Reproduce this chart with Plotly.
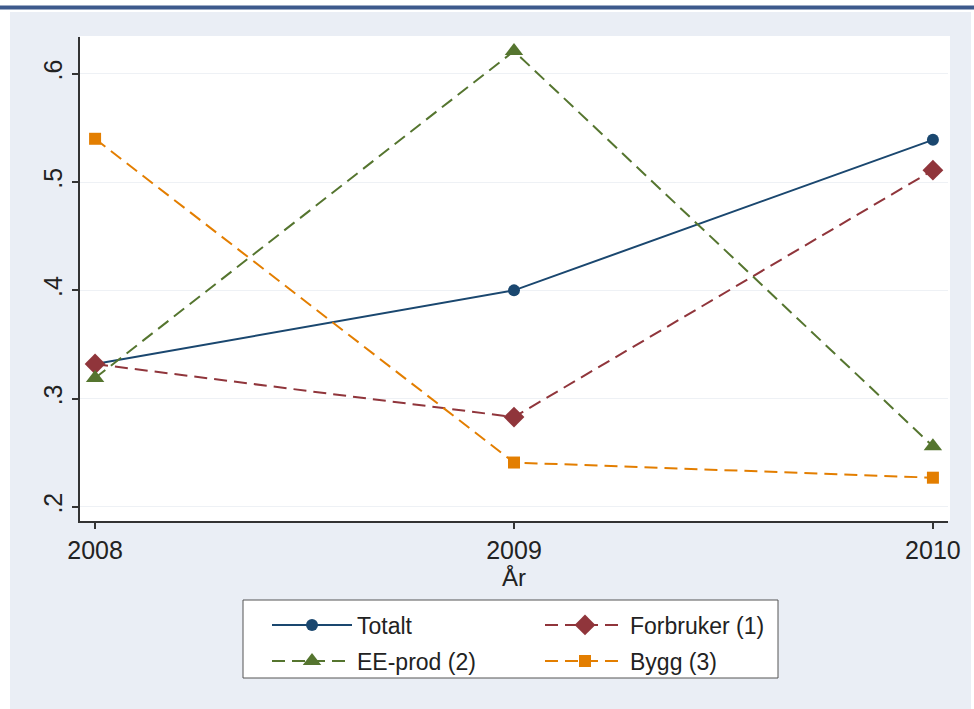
import plotly.graph_objects as go

# ---- data ----
years = [2008, 2009, 2010]
totalt = [0.332, 0.400, 0.539]
forbruker = [0.332, 0.283, 0.511]
ee_prod = [0.319, 0.621, 0.256]
bygg = [0.540, 0.241, 0.227]
y_ticks = [0.2, 0.3, 0.4, 0.5, 0.6]
y_ticktext = [".2", ".3", ".4", ".5", ".6"]

W, H = 974, 709
L, R, T, B = 80, 948, 37, 521  # plot area in pixels
PW, PH = R - L, B - T


def px(x):
    return (x - L) / PW


def py(y):
    return (B - y) / PH


FONT = "Liberation Sans, Arial, sans-serif"
NAVY = "#1a476f"
MAROON = "#90353b"
GREEN = "#55752f"
ORANGE = "#e37e00"

fig = go.Figure()

fig.add_trace(go.Scatter(x=years, y=totalt, name="Totalt", mode="lines+markers",
                         line=dict(color=NAVY, width=2),
                         marker=dict(symbol="circle", size=12, color=NAVY),
                         legend="legend"))
fig.add_trace(go.Scatter(x=years, y=forbruker, name="Forbruker (1)", mode="lines+markers",
                         line=dict(color=MAROON, width=2, dash="13px,7px"),
                         marker=dict(symbol="diamond", size=16, color=MAROON),
                         legend="legend"))
fig.add_trace(go.Scatter(x=years, y=ee_prod, name="EE-prod (2)", mode="lines+markers",
                         line=dict(color=GREEN, width=2, dash="13px,7px"),
                         marker=dict(symbol="triangle-up", size=16, color=GREEN),
                         legend="legend2"))
fig.add_trace(go.Scatter(x=years, y=bygg, name="Bygg (3)", mode="lines+markers",
                         line=dict(color=ORANGE, width=2, dash="13px,7px"),
                         marker=dict(symbol="square", size=12, color=ORANGE),
                         legend="legend2"))

shapes = [
    # blue rule at top
    dict(type="rect", xref="paper", yref="paper", layer="below",
         x0=px(0), x1=px(974), y0=py(9.5), y1=py(5.5),
         fillcolor="#3d5a8c", line=dict(width=0)),
    # graph region
    dict(type="rect", xref="paper", yref="paper", layer="below",
         x0=px(10), x1=px(971), y0=py(712), y1=py(12),
         fillcolor="#eaeef5", line=dict(width=0)),
    # plot region
    dict(type="rect", xref="paper", yref="paper", layer="below",
         x0=px(80), x1=px(950), y0=py(521), y1=py(36),
         fillcolor="white", line=dict(width=0)),
    # legend box
    dict(type="rect", xref="paper", yref="paper", layer="below",
         x0=px(243), x1=px(778), y0=py(678), y1=py(600),
         fillcolor="white", line=dict(color="#555555", width=1)),
]

leg_common = dict(orientation="h", xanchor="left", yanchor="middle",
                  bgcolor="rgba(0,0,0,0)", borderwidth=0,
                  font=dict(family=FONT, size=23, color="#222222"),
                  entrywidth=178, entrywidthmode="pixels", itemwidth=80)

fig.update_layout(
    width=W, height=H,
    margin=dict(l=L, r=W - R, t=T, b=H - B, autoexpand=False),
    paper_bgcolor="white",
    plot_bgcolor="white",
    font=dict(family=FONT, size=23, color="#222222"),
    shapes=shapes,
    showlegend=True,
    legend=dict(x=px(267), y=py(625), **leg_common),
    legend2=dict(x=px(267), y=py(661), **leg_common),
    xaxis=dict(range=[2007.964, 2010.036], tickvals=years, ticktext=[str(y) for y in years],
               ticks="outside", ticklen=6, tickcolor="#333333", tickwidth=1.5,
               showline=True, linecolor="#333333", linewidth=1.5,
               showgrid=False, zeroline=False,
               title=dict(text="År", standoff=4, font=dict(size=24)),
               tickfont=dict(size=25)),
    yaxis=dict(range=[0.187, 0.634], tickvals=y_ticks, ticktext=y_ticktext,
               tickangle=-90, ticks="outside", ticklen=6, tickcolor="#333333", tickwidth=1.5,
               showline=True, linecolor="#333333", linewidth=1.5,
               showgrid=True, gridcolor="#eef1f5", gridwidth=1, zeroline=False,
               tickfont=dict(size=25)),
)

fig.write_html("out.html", config={"displayModeBar": False},
               post_script="document.body.style.margin='0';document.body.style.overflow='hidden';")
